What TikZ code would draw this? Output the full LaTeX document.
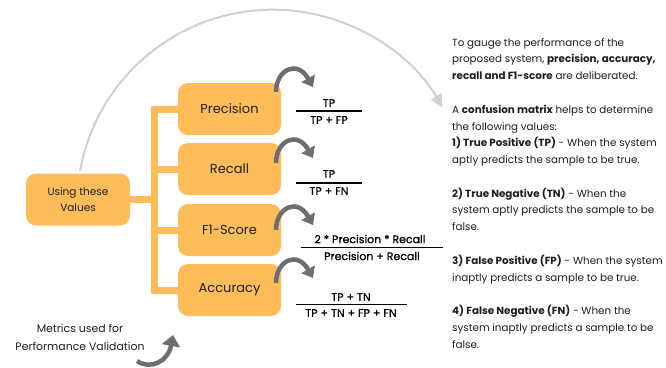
\documentclass[tikz,border=0pt]{standalone}
\usepackage{fontspec}
\setmainfont{Poppins}
\newfontfamily\medfont{Poppins}[FakeBold=0.8]
\usetikzlibrary{arrows.meta,calc}
\definecolor{orng}{HTML}{FFBD59}
\definecolor{darr}{HTML}{6E6E6E}
\definecolor{larr}{HTML}{D0D0D0}
\definecolor{ink}{HTML}{1E1E1E}
\begin{document}
\begin{tikzpicture}[x=1pt,y=-1pt,
  box/.style={fill=orng, rounded corners=10pt, minimum width=103pt, minimum height=52pt,
    inner sep=0pt, text=ink, font=\fontsize{13}{15}\selectfont},
  branch/.style={draw=orng, line width=7pt},
  darrow/.style={draw=darr, line width=4.5pt, -{Triangle[length=10pt,width=15pt]}},
  fractxt/.style={inner sep=0pt, text=black, font=\medfont\fontsize{11}{12}\selectfont},
  fracrule/.style={draw=black, line width=1.3pt},
  plain/.style={inner sep=0pt, text=ink, align=left, font=\fontsize{10.35}{16.78}\selectfont}]
\useasboundingbox (0,0) rectangle (666,367);
% boxes
\node[box] (prec) at (229.5,109) {Precision};
\node[box] (rec) at (229.5,169) {Recall};
\node[box] (f1) at (229.5,230) {F1-Score};
\node[box] (acc) at (229.5,290) {Accuracy};
\node[box, minimum width=104pt, align=center, font=\fontsize{10.5}{16}\selectfont] (use) at (78,199.5) {Using these\\Values};
% tree connectors
\coordinate (bartop) at (154.5,109);
\draw[branch, line cap=rect] (prec.west -| bartop) -- (acc.west -| bartop);
\foreach \n in {prec,rec,f1,acc} \draw[branch] (\n.west -| bartop) -- (\n.west);
\draw[branch] (use.east) -- (use.east -| bartop);
% big arc
\coordinate (arcs) at (80,171);
\draw[larr, line width=2pt, -{Triangle[length=13pt,width=12pt]}] (arcs) arc[start angle=190.2, end angle=330, radius=196];
% curved dark arrows
\foreach \s in {92,163,230,283}{
  \coordinate (as\s) at (276,\s);
  \coordinate (ae\s) at (313,\s-5);
  \draw[darrow] (as\s) .. controls +(0,-22) and +(-16,-28) .. (ae\s);
}
% fractions
\node[fractxt] (pn) at (329,103) {TP};
\node[fractxt] (pd) at (329,120) {TP + FP};
\coordinate (pl) at (296,111); \coordinate (pr) at (362,111);
\draw[fracrule] (pl) -- (pr);
\node[fractxt] (rn) at (329,174) {TP};
\node[fractxt] (rd) at (329,191) {TP + FN};
\coordinate (rl) at (296,183); \coordinate (rr) at (362,183);
\draw[fracrule] (rl) -- (rr);
\node[fractxt] (fn) at (370,239) {2 * Precision * Recall};
\node[fractxt] (fd) at (372,256) {Precision + Recall};
\coordinate (fl) at (301,247.5); \coordinate (fr) at (443,247.5);
\draw[fracrule] (fl) -- (fr);
\node[fractxt] (an) at (351,297) {TP + TN};
\node[fractxt] (ad) at (351,313) {TP + TN + FP + FN};
\coordinate (al) at (296,304.5); \coordinate (ar) at (407,304.5);
\draw[fracrule] (al) -- (ar);
% caption
\node[plain, align=center, font=\fontsize{10.9}{18}\selectfont] (cap) at (80,337) {Metrics used for\\Performance Validation};
\coordinate (bs) at (137,361);
\coordinate (be) at (173,335);
\draw[darrow, -{Triangle[length=11pt,width=18pt]}] (bs) .. controls (150,370) and (168,362) .. (be);
% right text
\node[plain, anchor=north west] (info) at (452,38) {To gauge the performance of the\\
proposed system, \textbf{precision, accuracy,}\\
\textbf{recall and F1-score} are deliberated.\\[16.78pt]
A \textbf{confusion matrix} helps to determine\\
the following values:\\
\textbf{1) True Positive (TP)} - When the system\\
aptly predicts the sample to be true.\\[16.78pt]
\textbf{2) True Negative (TN)} - When the\\
system aptly predicts the sample to be\\
false.\\[16.78pt]
\textbf{3) False Positive (FP)} - When the system\\
inaptly predicts a sample to be true.\\[16.78pt]
\textbf{4) False Negative (FN)} - When the\\
system inaptly predicts a sample to be\\
false.};
\end{tikzpicture}
\end{document}
